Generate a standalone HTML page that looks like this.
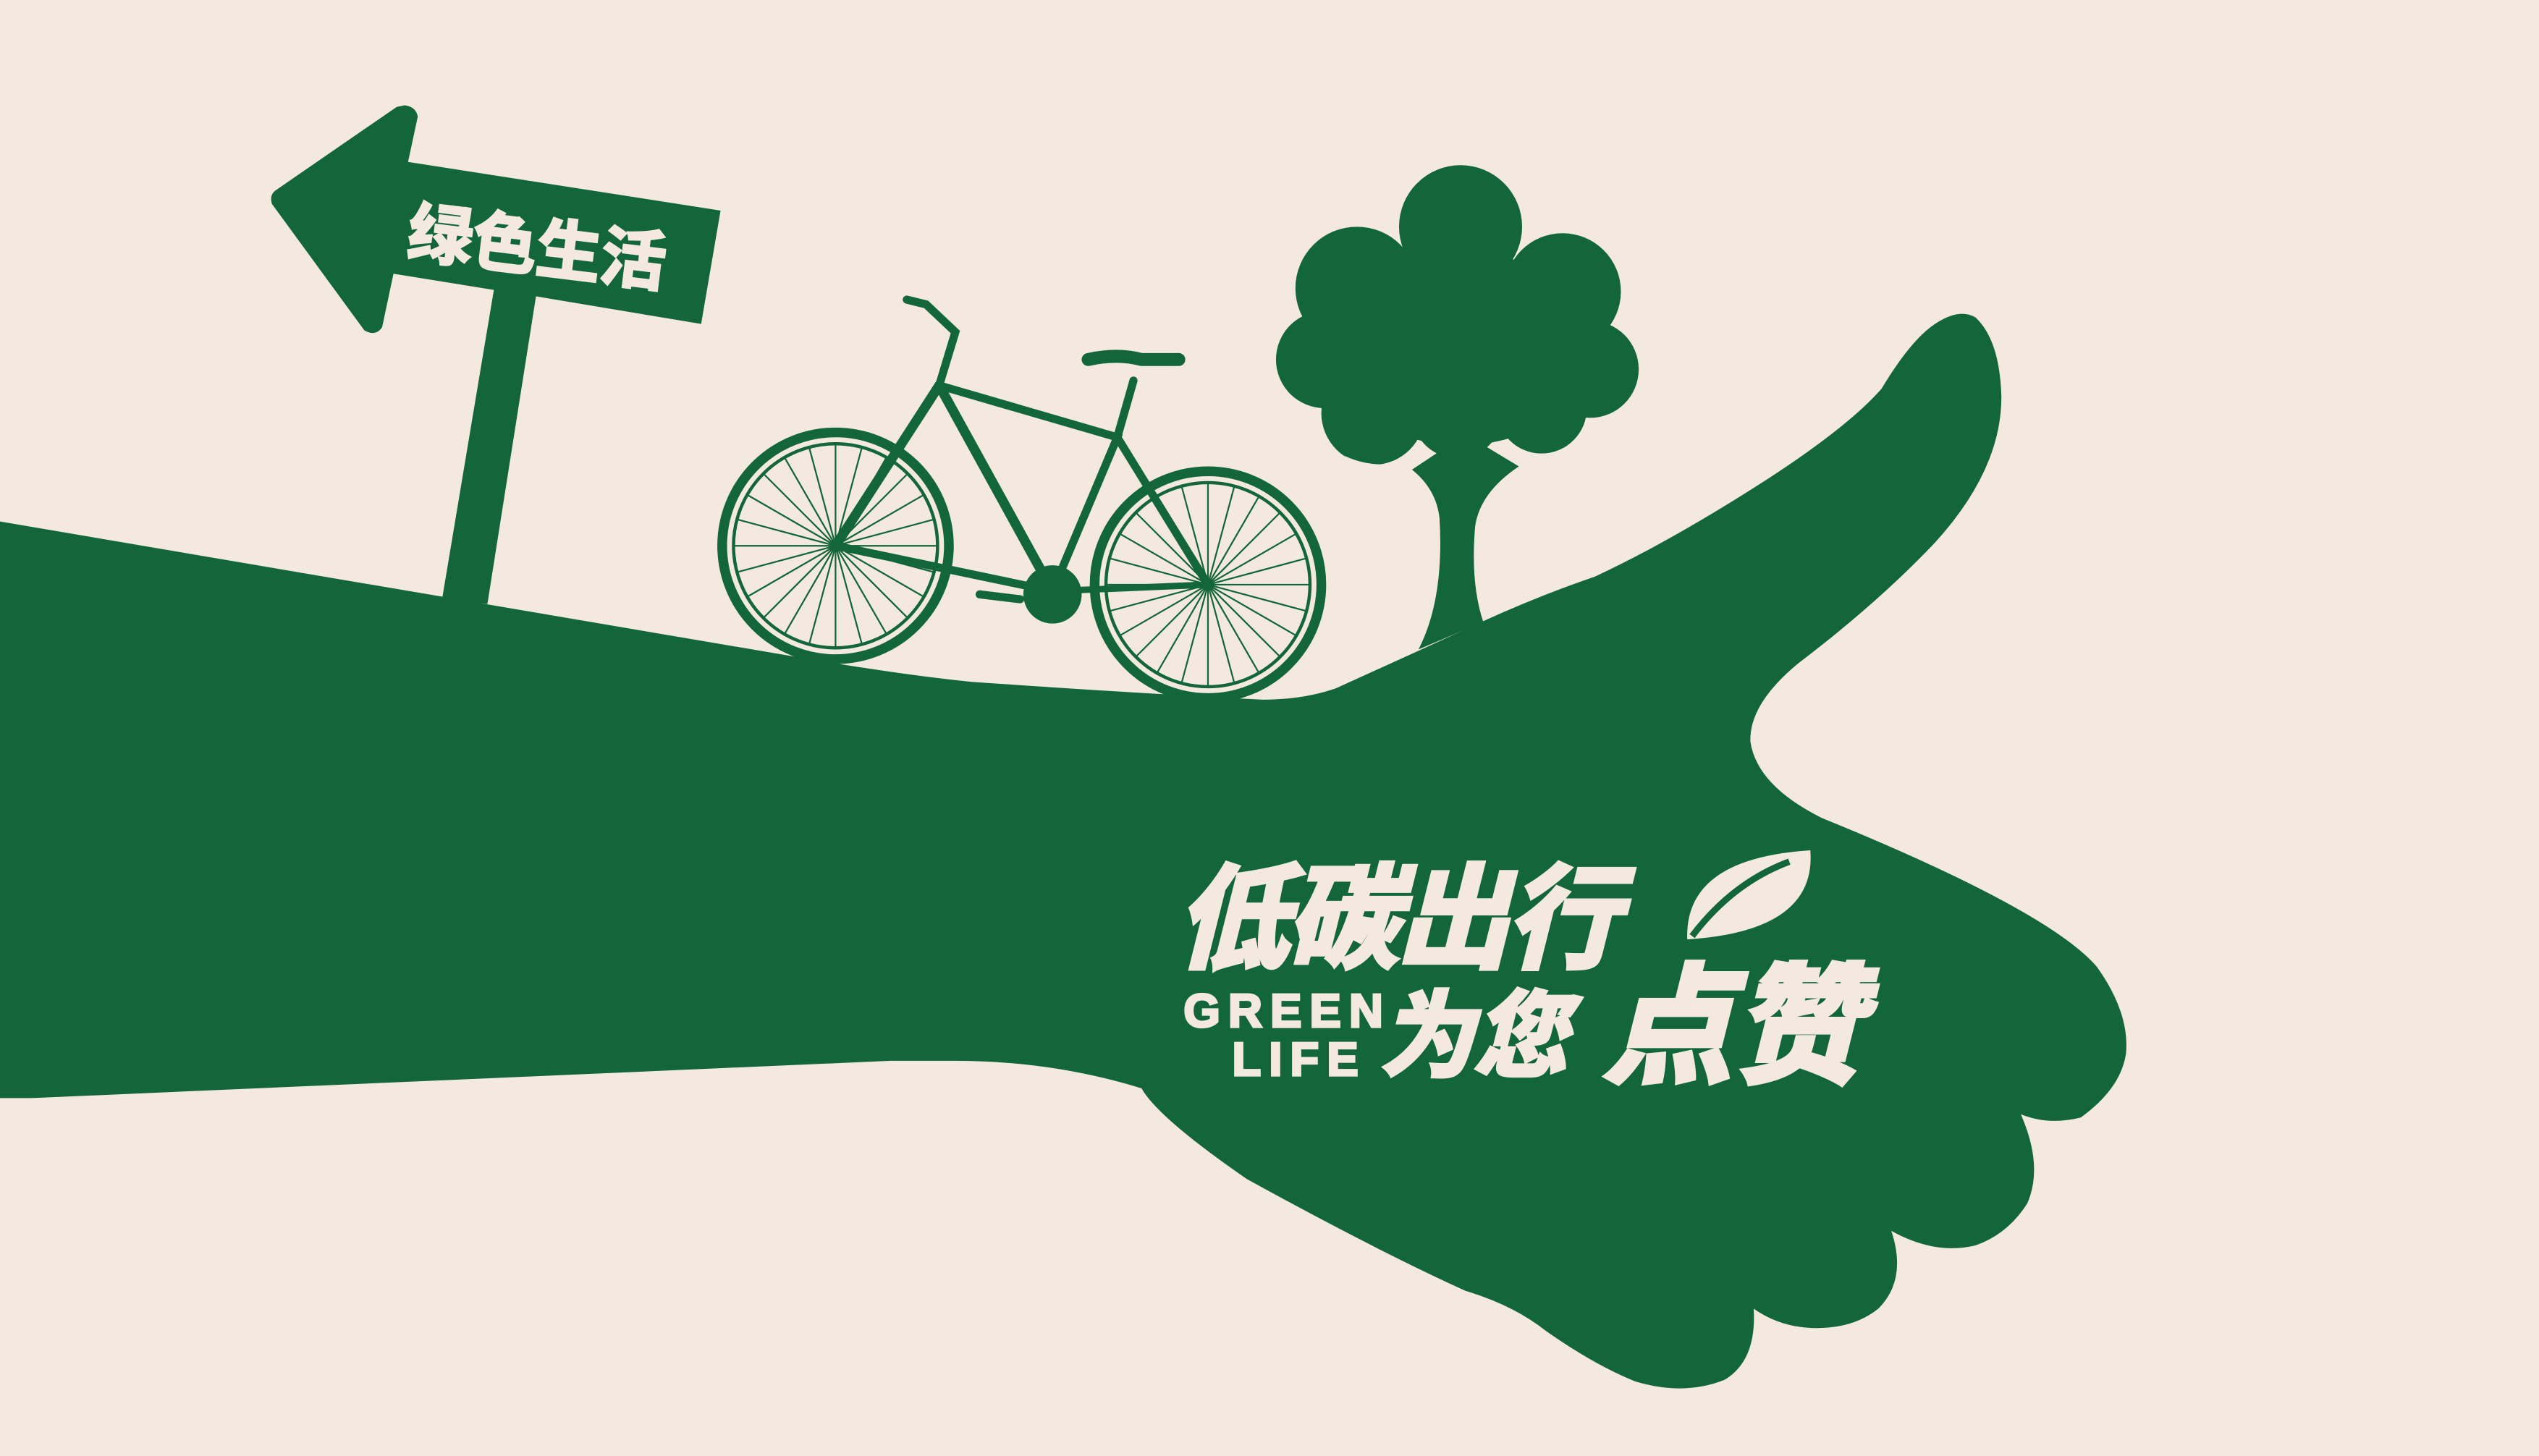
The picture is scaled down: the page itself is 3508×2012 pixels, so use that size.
<!DOCTYPE html>
<html><head><meta charset="utf-8"><style>
html,body{margin:0;padding:0;background:#f3e9df;}
svg{display:block;}
</style></head><body>
<svg width="3508" height="2012" viewBox="0 0 1568 899" preserveAspectRatio="none" xmlns="http://www.w3.org/2000/svg">
<rect x="0" y="0" width="1568" height="899" fill="#f3e9df"/>
<g fill="#13653a">
<path d="M0,322 L500,407 Q560,417 600,421 Q700,428 780,432 Q805,432 825,425 L880,400 L915,384 Q950,368 985,356 Q1030,335 1085,300 Q1140,265 1162,240 Q1180,210 1195,200 Q1210,190 1220,196 Q1235,210 1236,245 Q1236,290 1195,335 Q1160,372 1110,410 Q1080,435 1081,458 Q1085,485 1125,505 Q1265,562 1295,597 Q1315,625 1313,650 Q1310,672 1285,690 Q1265,695 1248,688 Q1262,720 1252,743 Q1240,762 1220,769 Q1195,775 1168,760 Q1178,790 1160,808 Q1145,820 1122,820 Q1100,820 1083,808 Q1085,840 1065,852 Q1040,862 1010,853 Q985,843 955,822 Q935,806 905,797 Q850,772 770,728 Q715,690 705,672 Q650,655 590,655 L550,655 L20,678 L0,678 Z"/>
<path d="M250,65 Q257,66 258,72 L252,100 L445,130 L433,200 L331,183 L301,373 L273,370 L305,179 L243,169 L236,202 Q232,208 225,204 L168,126 Q166,120 171,117 L245,66 Z"/>
<g>
<path d="M876,401 Q892,370 889,320 Q887,302 872,290 L905,268 L938,288 Q914,304 911,325 Q908,360 916,384 Z"/>
<circle cx="902" cy="140" r="38"/><circle cx="838" cy="178" r="38"/><circle cx="965" cy="180" r="36"/>
<circle cx="818" cy="222" r="30"/><circle cx="982" cy="228" r="30"/><circle cx="848" cy="255" r="32"/>
<ellipse cx="902" cy="215" rx="80" ry="60"/><circle cx="952" cy="252" r="28"/><circle cx="900" cy="255" r="28"/>
</g>
</g>
<g fill="none" stroke="#f3e9df" stroke-width="3">
<path d="M830,283 Q852,293 876,284"/><path d="M938,285 Q958,290 975,282"/>
</g>
<g fill="none" stroke="#13653a" stroke-linecap="round">
<circle cx="516" cy="337" r="70" stroke-width="6"/>
<circle cx="516" cy="337" r="63" stroke-width="2"/>
<circle cx="746" cy="361" r="70" stroke-width="6"/>
<circle cx="746" cy="361" r="63" stroke-width="2"/>
<g id="spokes" stroke-width="1"></g>
<path d="M516,337 L650,365 L690,270 L580,238 Z" stroke-width="5"/>
<path d="M516,337 L580,238" stroke-width="6"/>
<path d="M580,238 L650,365" stroke-width="6"/>
<path d="M690,270 L746,361" stroke-width="5"/>
<path d="M690,270 L700,235" stroke-width="5"/>
<path d="M580,238 L590,205 L572,188 L560,185" stroke-width="5"/>
<path d="M672,222 Q690,218 705,222 L728,222" stroke-width="8"/>
<path d="M650,365 L746,361" stroke-width="4"/>
<circle cx="650" cy="367" r="18" fill="#13653a" stroke="none"/>
<path d="M605,367 L630,370" stroke-width="5"/>
</g>
<g fill="#f3e9df" stroke="#f3e9df" stroke-width="1.5" font-family="'Liberation Sans','Noto Sans CJK SC',sans-serif" font-weight="bold">
<text x="252" y="168" font-size="40" transform="rotate(7 340 150)">绿色生活</text>
<text x="726" y="592" font-size="70" font-style="italic" letter-spacing="-2" stroke-width="2.5">低碳出行</text>
<text x="731" y="634" font-size="29" letter-spacing="5">GREEN</text>
<text x="761" y="664" font-size="29" letter-spacing="5">LIFE</text>
<text x="852" y="660" font-size="58" font-style="italic" stroke-width="2.5">为您</text>
<text x="990" y="662" font-size="80" font-style="italic" stroke-width="3">点赞</text>
</g>
<g>
<path d="M1042,580 Q1040,530 1118,525 Q1122,575 1042,580 Z" fill="#f3e9df"/>
<path d="M1045,578 Q1070,545 1105,532" fill="none" stroke="#13653a" stroke-width="4"/>
</g>
</svg>
<script>
const spokeAngles = [0,15,30,45,60,75,90,105,120,135,150,165,180,195,210,225,240,255,270,285,300,315,330,345];
const wheels = [[516,337],[746,361]];
const g = document.getElementById('spokes');


wheels.forEach(w=>{
  spokeAngles.forEach(a=>{
    const r=a*Math.PI/180;
    const l=document.createElementNS('http://www.w3.org/2000/svg','line');
    
    
    l.setAttribute('x1',w[0]);l.setAttribute('y1',w[1]);
    l.setAttribute('x2',w[0]+63*Math.cos(r));l.setAttribute('y2',w[1]+63*Math.sin(r));
    g.appendChild(l);
  });
});
</script>
</body></html>
